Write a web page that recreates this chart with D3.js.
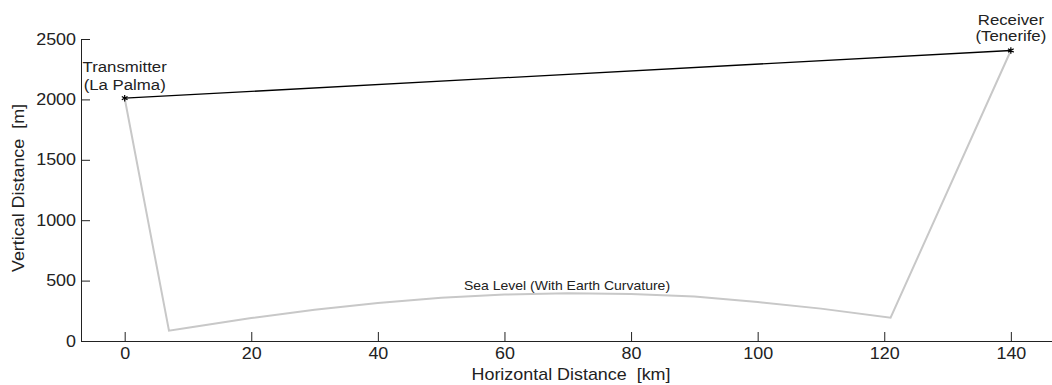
<!DOCTYPE html>
<html><head><meta charset="utf-8">
<script src="https://cdn.jsdelivr.net/npm/d3@7"></script>
<style>
html,body{margin:0;padding:0;background:#fff;}
svg{display:block;font-family:"Liberation Sans",Arial,sans-serif;}
text{white-space:pre;}
</style></head>
<body><svg id="c" width="1052" height="385"></svg>
<script>
// Data
const xTicks = [0,20,40,60,80,100,120,140];
const yTicks = [0,500,1000,1500,2000,2500];
const transmitter = {x:0, y:2010, label:["Transmitter","(La Palma)"]};
const receiver = {x:140, y:2405, label:["Receiver","(Tenerife)"]};
const seaKm = [7,10,20,30,40,50,60,70,80,90,100,110,121];
const seaM  = [85,110,190,258,315,358,385,396,390,368,322,268,193];
const seaLabel = "Sea Level (With Earth Curvature)";
const xLabel = "Horizontal Distance  [km]";
const yLabel = "Vertical Distance  [m]";

const svg = d3.select("#c");
const SX = 1.12;
const x = d3.scaleLinear().domain([-6.9,146.5]).range([81,1052]);
const y = d3.scaleLinear().domain([0,2500]).range([341,39]);

// grey path
const grey = [[transmitter.x,transmitter.y]]
  .concat(seaKm.map((k,i)=>[k,seaM[i]]))
  .concat([[receiver.x,receiver.y]]);
const line = d3.line().x(d=>x(d[0])).y(d=>y(d[1]));
svg.append("path").attr("d",line(grey)).attr("fill","none")
  .attr("stroke","#c8c8c8").attr("stroke-width",2).attr("stroke-linejoin","miter");

// link line
svg.append("path").attr("d",line([[transmitter.x,transmitter.y],[receiver.x,receiver.y]]))
  .attr("fill","none").attr("stroke","#000").attr("stroke-width",1.3);

// markers
[transmitter,receiver].forEach(p=>{
  svg.append("path").attr("d",d3.symbol(d3.symbolAsterisk,30)())
    .attr("transform",`translate(${x(p.x)},${y(p.y)})`)
    .attr("fill","none").attr("stroke","#000").attr("stroke-width",1.2);
});

// axes
const fmt = d3.format("d");
const gx = svg.append("g").attr("transform",`translate(0,${y(0)})`)
  .call(d3.axisBottom(x).tickValues(xTicks).tickFormat(fmt).tickSizeInner(-9).tickSizeOuter(0).tickPadding(7));
const gy = svg.append("g").attr("transform",`translate(${x.range()[0]},0)`)
  .call(d3.axisLeft(y).tickValues(yTicks).tickFormat(fmt).tickSizeInner(-9).tickSizeOuter(0).tickPadding(5));
[gx,gy].forEach(g=>{
  g.select(".domain").attr("stroke","#222");
  g.selectAll(".tick line").attr("stroke","#222");
  g.selectAll("text").attr("font-size",16).attr("fill","#222")
    .attr("font-family","Liberation Sans, Arial, sans-serif");
});
gx.selectAll(".tick text").attr("transform",`scale(${SX},1)`);
gy.selectAll(".tick text").attr("x",0).attr("transform",`translate(-5,0) scale(${SX},1)`);

// annotation labels
function multi(p, size, baselines){
  p.label.forEach((t,i)=>{
    svg.append("text").attr("text-anchor","middle").attr("font-size",size).attr("fill","#222")
      .attr("transform",`translate(${x(p.x)},${baselines[i]}) scale(${SX},1)`).text(t);
  });
}
multi(transmitter,15,[71.5,90]);
multi(receiver,15,[25,40.5]);

svg.append("text").attr("text-anchor","middle").attr("font-size",12.5).attr("fill","#222")
  .attr("transform",`translate(567,290) scale(${SX},1)`).text(seaLabel);

svg.append("text").attr("text-anchor","middle").attr("font-size",16).attr("fill","#222")
  .attr("transform",`translate(571,380) scale(${SX},1)`).text(xLabel);
svg.append("text").attr("text-anchor","middle").attr("font-size",16).attr("fill","#222")
  .attr("transform",`translate(24,188) rotate(-90) scale(${SX},1)`).text(yLabel);
</script></body></html>
